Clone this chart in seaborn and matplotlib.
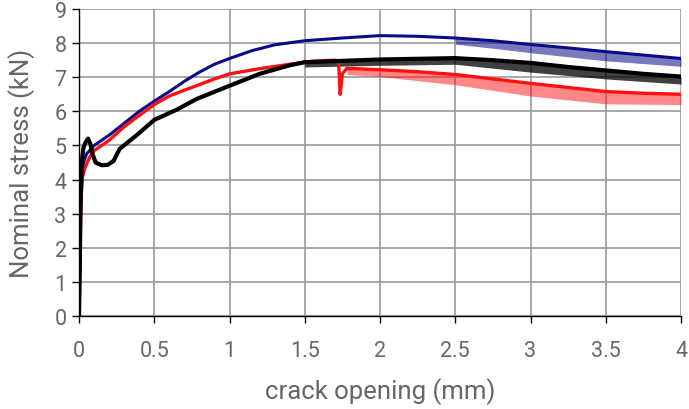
import numpy as np
import pandas as pd
import matplotlib
matplotlib.use("Agg")
import matplotlib.pyplot as plt
import seaborn as sns

# curves: crack opening (mm) vs nominal stress (kN)
blue_x = [0, 0.005, 0.01, 0.02, 0.03, 0.05, 0.08, 0.1, 0.15, 0.2, 0.3, 0.4, 0.5, 0.6,
          0.7, 0.8, 0.9, 1.0, 1.15, 1.3, 1.5, 1.75, 2.0, 2.25, 2.5, 2.75, 3.0, 3.25,
          3.5, 3.75, 4.0]
blue_y = [0, 1.5, 3.0, 4.0, 4.5, 4.75, 4.9, 5.0, 5.15, 5.3, 5.65, 6.0, 6.3, 6.58,
          6.88, 7.15, 7.38, 7.55, 7.78, 7.95, 8.07, 8.15, 8.22, 8.2, 8.15, 8.07, 7.96,
          7.86, 7.75, 7.65, 7.55]

red_x = [0, 0.005, 0.01, 0.018, 0.04, 0.07, 0.1, 0.2, 0.3, 0.4, 0.5, 0.6, 0.7, 0.78,
         0.9, 1.0, 1.2, 1.4, 1.55, 1.7, 1.725, 1.735, 1.75, 1.78, 2.0, 2.25, 2.5,
         2.75, 3.0, 3.25, 3.5, 3.75, 4.0]
red_y = [0, 1.2, 2.8, 4.0, 4.35, 4.65, 4.85, 5.15, 5.55, 5.88, 6.2, 6.45, 6.62, 6.75,
         6.95, 7.1, 7.25, 7.38, 7.47, 7.5, 7.45, 6.5, 7.1, 7.26, 7.22, 7.16, 7.08,
         6.95, 6.82, 6.7, 6.58, 6.53, 6.5]

black_x = [0, 0.005, 0.01, 0.015, 0.02, 0.03, 0.045, 0.06, 0.075, 0.09, 0.11, 0.15,
           0.19, 0.23, 0.27, 0.38, 0.5, 0.65, 0.78, 1.0, 1.2, 1.4, 1.5, 1.75, 2.0,
           2.25, 2.5, 2.75, 3.0, 3.25, 3.5, 3.75, 4.0]
black_y = [0, 1.5, 3.2, 4.0, 4.6, 4.95, 5.1, 5.2, 5.05, 4.75, 4.5, 4.42, 4.43, 4.55,
           4.9, 5.29, 5.75, 6.05, 6.36, 6.75, 7.1, 7.35, 7.44, 7.48, 7.52, 7.54, 7.56,
           7.5, 7.42, 7.3, 7.2, 7.1, 7.02]

# noisy downward spikes: band between the curve and the spike tips
blue_band_x = [2.5, 2.75, 3.0, 3.5, 4.0]
blue_band_hi = [8.15, 8.07, 7.96, 7.75, 7.55]
blue_band_lo = [7.97, 7.85, 7.72, 7.48, 7.32]

red_band_x = [1.78, 2.0, 2.5, 3.0, 3.5, 4.0]
red_band_hi = [7.26, 7.22, 7.08, 6.82, 6.58, 6.5]
red_band_lo = [7.08, 7.02, 6.78, 6.45, 6.22, 6.2]

black_band_x = [1.5, 2.0, 2.5, 3.0, 3.5, 4.0]
black_band_hi = [7.44, 7.52, 7.56, 7.42, 7.2, 7.02]
black_band_lo = [7.3, 7.35, 7.38, 7.15, 6.95, 6.8]

x_ticks = [0, 0.5, 1, 1.5, 2, 2.5, 3, 3.5, 4]
x_labels = ["0", "0.5", "1", "1.5", "2", "2.5", "3", "3.5", "4"]
y_ticks = list(range(0, 10))

navy = "#0b0b8a"
red = "#ff1010"
black = "#000000"
text_grey = "#666666"

sns.set_style("white")
plt.rcParams["font.family"] = ["Roboto", "DejaVu Sans"]

fig = plt.figure(figsize=(6.89, 4.10), dpi=100)
ax = fig.add_axes([0.1147, 0.2268, 0.8737, 0.7488])

for bx, hi, lo, c, a in [(blue_band_x, blue_band_hi, blue_band_lo, navy, 0.55),
                         (black_band_x, black_band_hi, black_band_lo, black, 0.75),
                         (red_band_x, red_band_hi, red_band_lo, red, 0.5)]:
    ax.fill_between(bx, lo, hi, color=c, alpha=a, linewidth=0, zorder=3)

sns.lineplot(x=blue_x, y=blue_y, color=navy, linewidth=2.2, ax=ax, zorder=4)
sns.lineplot(x=black_x, y=black_y, color=black, linewidth=3.0, ax=ax, zorder=5)
sns.lineplot(x=red_x, y=red_y, color=red, linewidth=2.4, ax=ax, zorder=4)

ax.set_xlim(0, 4)
ax.set_ylim(0, 9)
ax.set_xticks(x_ticks)
ax.set_xticklabels(x_labels)
ax.set_yticks(y_ticks)
ax.grid(True, color="#9a9a9a", linewidth=1.2)
ax.set_axisbelow(True)
for s in ["top", "right"]:
    ax.spines[s].set_visible(False)
for s in ["left", "bottom"]:
    ax.spines[s].set_color("black")
    ax.spines[s].set_linewidth(1.0)
ax.tick_params(axis="both", direction="out", length=5, width=1, color="black",
               labelsize=15.5, labelcolor=text_grey, bottom=True, left=True)
ax.tick_params(axis="x", pad=12)
ax.tick_params(axis="y", pad=4)
ax.set_xlabel("crack opening (mm)", fontsize=18.5, color=text_grey, labelpad=12)
ax.set_ylabel("Nominal stress (kN)", fontsize=18.5, color=text_grey, labelpad=14)

fig.savefig("out.png", dpi=100)
